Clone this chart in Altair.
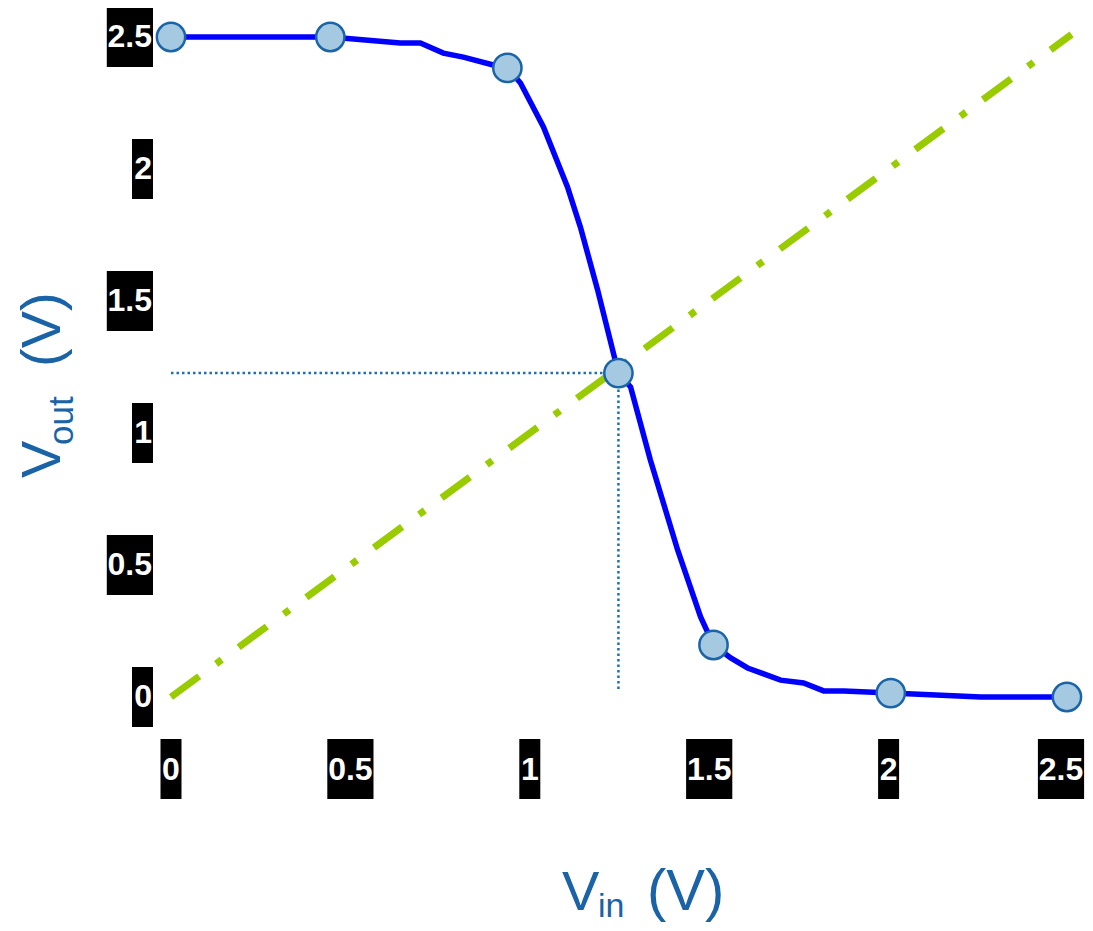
import altair as alt
import pandas as pd

# ---- data ----
vin_curve = [0.0, 0.257, 0.444, 0.639, 0.695, 0.759, 0.815, 0.898, 0.9375, 0.974, 1.038, 1.105,
             1.141, 1.189, 1.247, 1.281, 1.336, 1.412, 1.476, 1.512, 1.560, 1.607, 1.699, 1.763,
             1.819, 1.875, 2.006, 2.257, 2.497]
vout_curve = [2.5, 2.5, 2.5, 2.477, 2.477, 2.439, 2.424, 2.394, 2.383, 2.326, 2.159, 1.932,
              1.780, 1.542, 1.227, 1.174, 0.898, 0.557, 0.303, 0.197, 0.148, 0.110, 0.064, 0.053,
              0.023, 0.023, 0.015, 0.0, 0.0]
vin_pts = [0.0, 0.444, 0.9375, 1.247, 1.512, 2.006, 2.497]
vout_pts = [2.5, 2.5, 2.383, 1.227, 0.197, 0.015, 0.0]
ideal_vin = [0.0, 2.51]
ideal_vout = [0.0, 2.51]
vm_vin = 1.247
vm_vout = 1.227
vm_floor = 0.027
tick_values = [0, 0.5, 1, 1.5, 2, 2.5]
tick_labels = ["0", "0.5", "1", "1.5", "2", "2.5"]

curve_df = pd.DataFrame({"vin": vin_curve, "vout": vout_curve, "i": range(len(vin_curve))})
pts_df = pd.DataFrame({"vin": vin_pts, "vout": vout_pts})
ideal_df = pd.DataFrame({"vin": ideal_vin, "vout": ideal_vout})
hrule_df = pd.DataFrame({"x": [0.0], "x2": [vm_vin], "y": [vm_vout]})
vrule_df = pd.DataFrame({"x": [vm_vin], "y": [vm_vout], "y2": [vm_floor]})
ticks_df = pd.DataFrame({"v": tick_values, "label": tick_labels})

W, H = 897, 660
xs = alt.Scale(domain=[0, 2.5], nice=False, zero=False)
ys = alt.Scale(domain=[0, 2.5], nice=False, zero=False)
TITLE_COLOR = "#1a63a6"
LABEL_FONT = "Liberation Sans"
TITLE_FONT = "Liberation Sans"

X = lambda f: alt.X(f, type="quantitative", scale=xs, axis=None)
Y = lambda f: alt.Y(f, type="quantitative", scale=ys, axis=None)

hrule = alt.Chart(hrule_df).mark_rule(color="#1f6fb5", strokeWidth=2.5, strokeDash=[2.5, 3]).encode(
    x=X("x"), x2="x2", y=Y("y"))
vrule = alt.Chart(vrule_df).mark_rule(color="#1f6fb5", strokeWidth=2.5, strokeDash=[2.5, 3]).encode(
    x=X("x"), y=Y("y"), y2="y2")

ideal = alt.Chart(ideal_df).mark_line(color="#99cc00", strokeWidth=7, strokeDash=[35, 21, 7, 21],
                                      strokeCap="butt", clip=False).encode(x=X("vin"), y=Y("vout"))

curve = alt.Chart(curve_df).mark_line(color="#0000ff", strokeWidth=5.5).encode(
    x=X("vin"), y=Y("vout"), order="i:Q")

pts = alt.Chart(pts_df).mark_circle(size=800, color="#a6c9e2", opacity=1, stroke="#1a64a8",
                                    strokeWidth=2.5).encode(x=X("vin"), y=Y("vout"))

narrow = "M-0.35,-1H0.35V1H-0.35Z"
wide = "M-0.77,-1H0.77V1H-0.77Z"

base_t = alt.Chart(ticks_df)
box = dict(size=3600, filled=True, color="black", opacity=1, strokeWidth=0)
lab = dict(font=LABEL_FONT, fontWeight="bold", fontSize=32, color="white", baseline="middle")
inner = "datum.v < 2.5"
last = "datum.v >= 2.5"

xbox1 = base_t.transform_filter("length(datum.label) == 1").mark_point(shape=narrow, **box).encode(
    x=X("v"), y=alt.value(H + 72))
xbox3 = base_t.transform_filter(f"length(datum.label) == 3 && {inner}").mark_point(
    shape=wide, **box).encode(x=X("v"), y=alt.value(H + 72))
xbox_last = base_t.transform_filter(last).mark_point(shape=wide, xOffset=-7, **box).encode(
    x=X("v"), y=alt.value(H + 72))
ybox1 = base_t.transform_filter("length(datum.label) == 1").mark_point(shape=narrow, **box).encode(
    y=Y("v"), x=alt.value(-28.5))
ybox3 = base_t.transform_filter("length(datum.label) == 3").mark_point(shape=wide, **box).encode(
    y=Y("v"), x=alt.value(-41.1))

xlab = base_t.transform_filter(inner).mark_text(align="center", **lab).encode(
    x=X("v"), y=alt.value(H + 73), text="label:N")
xlab_last = base_t.transform_filter(last).mark_text(align="center", dx=-7, **lab).encode(
    x=X("v"), y=alt.value(H + 73), text="label:N")
ylab = base_t.mark_text(align="right", **lab).encode(
    y=Y("v"), x=alt.value(-19), text="label:N")

one = pd.DataFrame({"k": [0]})
def txt(t, x, y, size, angle=0):
    return alt.Chart(one).mark_text(text=t, font=TITLE_FONT, fontSize=size, color=TITLE_COLOR,
                                    align="left", baseline="alphabetic", angle=angle).encode(
        x=alt.value(x), y=alt.value(y))

titles = [
    txt("V", 391, 873, 56),
    txt("in", 427, 880, 34),
    txt("(V)", 476, 873, 58),
    txt("V", -111, 441, 56, 270),
    txt("out", -98, 408, 35, 270),
    txt("(V)", -111, 330, 56, 270),
]

chart = alt.layer(hrule, vrule, ideal, curve, pts, xbox1, xbox3, xbox_last, ybox1, ybox3,
                  xlab, xlab_last, ylab, *titles).properties(
    width=W, height=H,
    autosize=alt.AutoSizeParams(type="none"),
    padding={"left": 163, "top": 29, "right": 17, "bottom": 226},
).configure_view(stroke=None)

chart.save("out.html", embed_options={"renderer": "svg", "actions": False})
